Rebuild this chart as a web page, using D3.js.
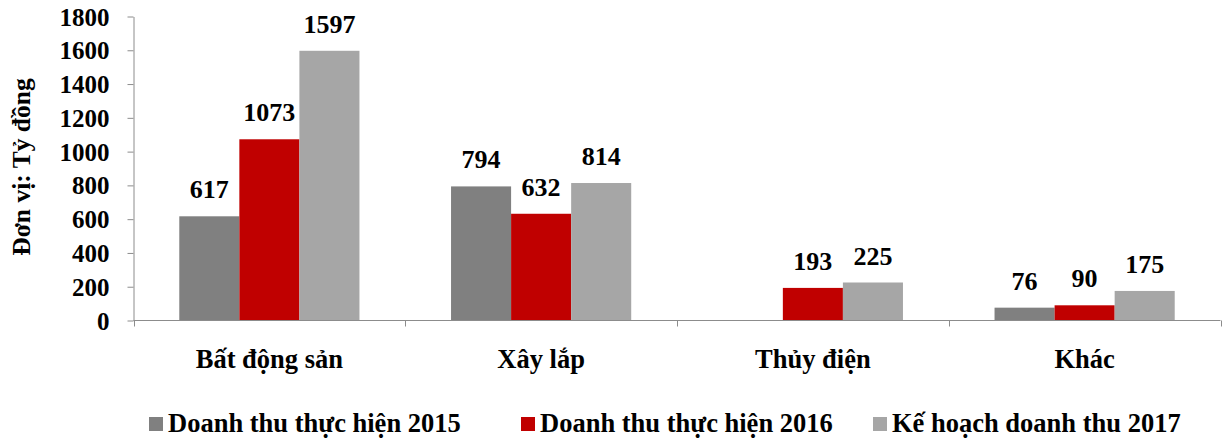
<!DOCTYPE html>
<html>
<head>
<meta charset="utf-8">
<script src="https://cdn.jsdelivr.net/npm/d3@7"></script>
<style>
  body { margin: 0; background: #fff; }
  text { font-family: "Liberation Serif", "Times New Roman", serif; font-weight: bold; fill: #000; }
</style>
</head>
<body>
<script>
const categories = ["Bất động sản", "Xây lắp", "Thủy điện", "Khác"];
const seriesNames = ["Doanh thu thực hiện 2015", "Doanh thu thực hiện 2016", "Kế hoạch doanh thu 2017"];
const values2015 = [617, 794, null, 76];
const values2016 = [1073, 632, 193, 90];
const values2017 = [1597, 814, 225, 175];
const yTicks = [0, 200, 400, 600, 800, 1000, 1200, 1400, 1600, 1800];

const W = 1231, H = 442;
const colors = ["#808080", "#C00000", "#A6A6A6"];
const axisColor = "#8c8c8c";

const plotLeft = 133.5, plotRight = 1220.5, plotTop = 16.5, plotBottom = 320.5;

const svg = d3.select("body").append("svg")
    .attr("width", W)
    .attr("height", H);

const series = [values2015, values2016, values2017];
const data = categories.map((c, i) => ({
    cat: c,
    vals: series.map((s, j) => ({ key: j, v: s[i] }))
}));

// Scales
const x0 = d3.scaleBand()
    .domain(categories)
    .range([plotLeft, plotRight])
    .paddingInner(0.337)
    .paddingOuter(0.337 / 2);
const x1 = d3.scaleBand()
    .domain([0, 1, 2])
    .range([0, x0.bandwidth()]);
const y = d3.scaleLinear()
    .domain([0, 1800])
    .range([plotBottom, plotTop]);

// y axis
const yAxis = d3.axisLeft(y)
    .tickValues(yTicks)
    .tickFormat(d3.format("d"))
    .tickSizeOuter(0)
    .tickSizeInner(6)
    .tickPadding(18);
const gy = svg.append("g")
    .attr("transform", "translate(" + plotLeft + ",0)")
    .call(yAxis);
gy.attr("font-family", null).attr("font-size", null);
gy.select(".domain").attr("stroke", axisColor);
gy.selectAll(".tick line").attr("stroke", axisColor);
gy.selectAll(".tick text")
    .attr("font-size", 25)
    .attr("dy", "0.34em")
    .attr("fill", "#000");

// bars
const groups = svg.selectAll(".cat")
    .data(data)
    .enter()
    .append("g")
    .attr("class", "cat")
    .attr("transform", d => "translate(" + x0(d.cat) + ",0)");

groups.selectAll("rect")
    .data(d => d.vals.filter(v => v.v != null))
    .enter()
    .append("rect")
    .attr("x", d => x1(d.key))
    .attr("y", d => y(d.v))
    .attr("width", x1.bandwidth())
    .attr("height", d => y(0) - y(d.v))
    .attr("fill", d => colors[d.key]);

groups.selectAll(".val")
    .data(d => d.vals.filter(v => v.v != null))
    .enter()
    .append("text")
    .attr("class", "val")
    .attr("x", d => x1(d.key) + x1.bandwidth() / 2)
    .attr("y", d => y(d.v) - 18)
    .attr("text-anchor", "middle")
    .attr("font-size", 26)
    .text(d => d.v);

// x axis
const xAxisG = svg.append("g");
xAxisG.append("line")
    .attr("x1", plotLeft).attr("x2", plotRight)
    .attr("y1", plotBottom).attr("y2", plotBottom)
    .attr("stroke", axisColor);
const step = x0.step();
const boundaries = d3.range(categories.length + 1).map(i => x0(categories[0]) - x0.paddingOuter() * step + i * step);
xAxisG.selectAll(".xt")
    .data(boundaries)
    .enter()
    .append("line")
    .attr("x1", d => Math.round(d) + 0.5).attr("x2", d => Math.round(d) + 0.5)
    .attr("y1", plotBottom).attr("y2", plotBottom + 6)
    .attr("stroke", axisColor);
xAxisG.selectAll(".xl")
    .data(categories)
    .enter()
    .append("text")
    .attr("x", d => x0(d) + x0.bandwidth() / 2)
    .attr("y", 368)
    .attr("text-anchor", "middle")
    .attr("font-size", 26.5)
    .text(d => d);

// y title
svg.append("text")
    .attr("transform", "translate(30,167) rotate(-90)")
    .attr("text-anchor", "middle")
    .attr("font-size", 25.5)
    .text("Đơn vị: Tỷ đồng");

// legend
const legendX = [149, 521, 873];
const legend = svg.append("g");
seriesNames.forEach((name, i) => {
    legend.append("rect")
        .attr("x", legendX[i]).attr("y", 417)
        .attr("width", 14).attr("height", 14)
        .attr("fill", colors[i]);
    legend.append("text")
        .attr("x", legendX[i] + 19)
        .attr("y", 432)
        .attr("font-size", 26.5)
        .text(name);
});
</script>
</body>
</html>
